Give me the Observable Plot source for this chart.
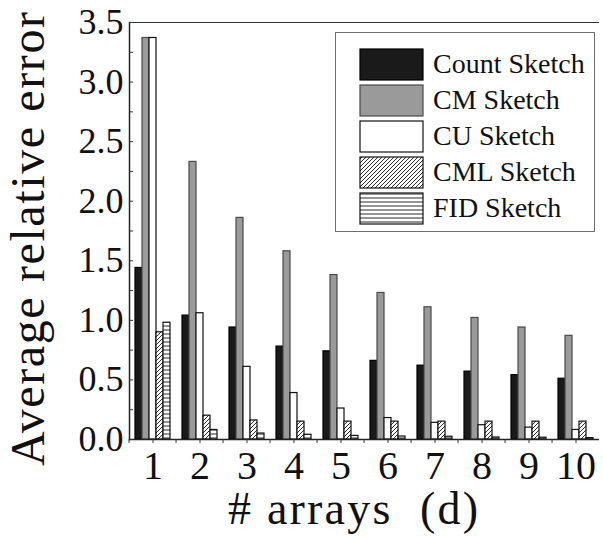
<!DOCTYPE html>
<html>
<head>
<meta charset="utf-8">
<script src="https://cdn.jsdelivr.net/npm/d3@7"></script>
<script src="https://cdn.jsdelivr.net/npm/@observablehq/plot@0.6"></script>
<style>
  body { margin: 0; background: #fff; }
  #chart { position: relative; width: 603px; height: 540px; overflow: hidden; }
  #legend {
    position: absolute; left: 335px; top: 32px; width: 260px; height: 200px;
    box-sizing: border-box; border: 1.5px solid #6e6e6e; background: #fff;
    font-family: "Liberation Serif", "Times New Roman", serif; font-size: 28px; color: #111;
    padding-top: 13px;
  }
  #legend .row { display: flex; align-items: center; height: 36px; }
  #legend svg { margin-left: 23px; margin-right: 9px; display: block; }
</style>
</head>
<body>
<!-- fill patterns for the hatched series -->
<svg width="0" height="0" style="position:absolute">
  <defs>
    <pattern id="hatch-cml" patternUnits="userSpaceOnUse" width="4" height="4">
      <rect width="4" height="4" fill="#fff"/>
      <path d="M-1,1 L1,-1 M0,4 L4,0 M3,5 L5,3" stroke="#111" stroke-width="0.9"/>
    </pattern>
    <pattern id="hatch-fid" patternUnits="userSpaceOnUse" width="4" height="4">
      <rect width="4" height="4" fill="#fff"/>
      <line x1="0" x2="4" y1="2" y2="2" stroke="#111" stroke-width="0.9"/>
    </pattern>
  </defs>
</svg>
<div id="chart"></div>
<script>
// number of arrays d
const ds = [1, 2, 3, 4, 5, 6, 7, 8, 9, 10];

const seriesNames = ["Count Sketch", "CM Sketch", "CU Sketch", "CML Sketch", "FID Sketch"];

// average relative error per sketch, one value per d
const countSketch = [1.44, 1.04, 0.94, 0.78, 0.74, 0.66, 0.62, 0.57, 0.54, 0.51];
const cmSketch    = [3.37, 2.33, 1.86, 1.58, 1.38, 1.23, 1.11, 1.02, 0.94, 0.87];
const cuSketch    = [3.37, 1.06, 0.61, 0.39, 0.26, 0.18, 0.14, 0.12, 0.10, 0.08];
const cmlSketch   = [0.90, 0.20, 0.16, 0.15, 0.15, 0.15, 0.15, 0.15, 0.15, 0.15];
const fidSketch   = [0.98, 0.08, 0.05, 0.04, 0.03, 0.025, 0.023, 0.017, 0.015, 0.012];

const yLabelTicks = [0, 0.5, 1.0, 1.5, 2.0, 2.5, 3.0, 3.5];
const yMinorTicks = [0, 0.25, 0.5, 0.75, 1.0, 1.25, 1.5, 1.75, 2.0, 2.25, 2.5, 2.75, 3.0, 3.25, 3.5];

const seriesFills   = ["#1a1a1a", "#9a9a9a", "#ffffff", "url(#hatch-cml)", "url(#hatch-fid)"];
const seriesStrokes = ["#000000", "#4a4a4a", "#111111", "#111111", "#111111"];

const seriesValues = [countSketch, cmSketch, cuSketch, cmlSketch, fidSketch];
const table = ds.flatMap((d, i) =>
  seriesValues.map((vals, j) => ({d, series: seriesNames[j], value: vals[i]}))
);

const W = 603, H = 540, ML = 124, MR = 0, MT = 22, MB = 101;
const fxStep = (W - ML - MR) / ds.length;
const serif = "Liberation Serif, Times New Roman, serif";

const chart = Plot.plot({
  width: W, height: H,
  marginLeft: ML, marginRight: MR, marginTop: MT, marginBottom: MB,
  style: {fontFamily: serif, color: "#111", background: "#fff", overflow: "visible"},
  fx: {domain: ds, padding: 0},
  x: {domain: seriesNames, paddingInner: 0, paddingOuter: 0.53, axis: null},
  y: {domain: [0, 3.5]},
  color: {domain: seriesNames, range: seriesFills},
  marks: [
    ...seriesNames.map((s, j) =>
      Plot.barY(table.filter(r => r.series === s), {
        fx: "d", x: "series", y: "value", fill: "series",
        stroke: seriesStrokes[j], strokeWidth: 1.2
      })
    ),
    Plot.ruleY([0], {stroke: "#222", strokeWidth: 1.5}),
    Plot.ruleY([3.5], {stroke: "#333", strokeWidth: 1.2}),
    Plot.frame({anchor: "left", facetAnchor: "left", stroke: "#222", strokeWidth: 1.5}),
    Plot.axisY({ticks: yLabelTicks, tickSize: 0, tickPadding: 6, fontSize: 36,
      tickFormat: d3.format(".1f"), label: null}),
    Plot.axisY({ticks: yMinorTicks, tickSize: -4, tickFormat: () => "", label: null, stroke: "#333"}),
    Plot.axisFx({anchor: "bottom", tickSize: 4, tickPadding: 7, fontSize: 40, label: null, stroke: "#333"}),
    Plot.axisFx({anchor: "bottom", tickSize: 4, tickFormat: () => "", label: null, dx: -fxStep / 2, stroke: "#333"})
  ]
});

// axis titles
const svg = d3.select(chart);
svg.append("text")
  .attr("x", 353).attr("y", 524)
  .attr("text-anchor", "middle")
  .attr("font-size", 46)
  .attr("fill", "#111")
  .style("white-space", "pre")
  .attr("textLength", 250)
  .text("# arrays  (d)");
svg.append("text")
  .attr("transform", "translate(44,239) rotate(-90)")
  .attr("text-anchor", "middle")
  .attr("font-size", 48)
  .attr("fill", "#111")
  .attr("textLength", 454)
  .text("Average relative error");

const container = document.getElementById("chart");
container.appendChild(chart);

// legend
const legend = d3.select(container).append("div").attr("id", "legend");
seriesNames.forEach((s, j) => {
  const row = legend.append("div").attr("class", "row");
  const sw = row.append("svg").attr("width", 65).attr("height", 33);
  sw.append("rect")
    .attr("x", 1).attr("y", 1).attr("width", 63).attr("height", 31)
    .attr("fill", seriesFills[j]).attr("stroke", seriesStrokes[j]).attr("stroke-width", 1.2);
  row.append("span").text(s);
});
</script>
</body>
</html>
